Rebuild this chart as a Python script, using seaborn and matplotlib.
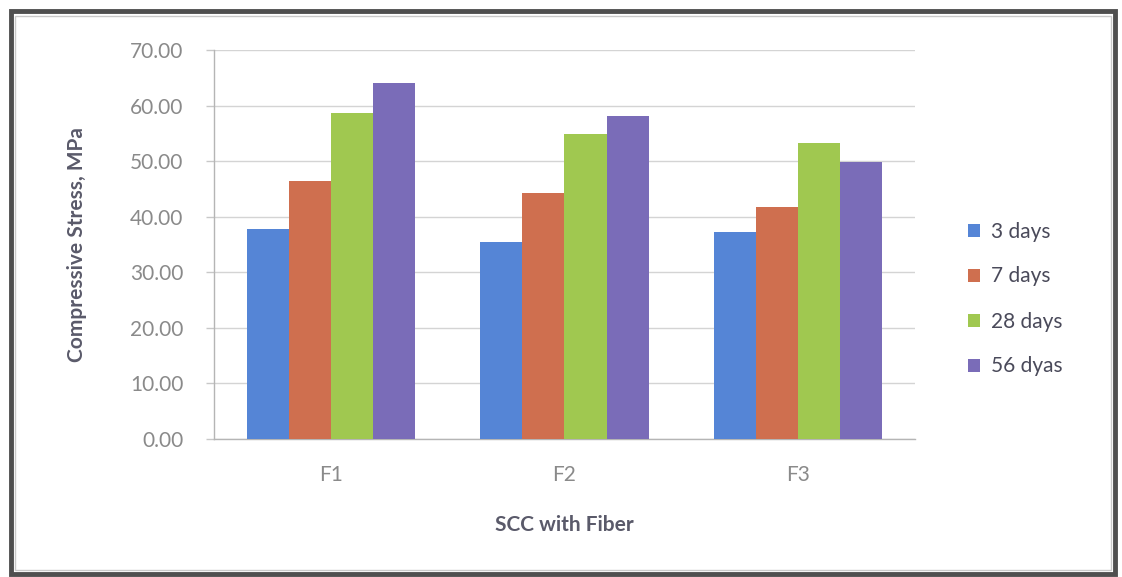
import matplotlib
matplotlib.use("Agg")
import matplotlib.pyplot as plt
from matplotlib.patches import Rectangle, Patch
import seaborn as sns
import pandas as pd

# Compressive stress (MPa) of SCC mixes with fiber at different curing ages
mixes = ["F1", "F2", "F3"]
ages = ["3 days", "7 days", "28 days", "56 dyas"]
stress_3d = [37.7, 35.5, 37.3]
stress_7d = [46.5, 44.3, 41.8]
stress_28d = [58.6, 54.8, 53.2]
stress_56d = [64.0, 58.2, 49.8]
y_ticks = [0, 10, 20, 30, 40, 50, 60, 70]

colors = ["#5585D6", "#CF6F4F", "#A0C850", "#7A6CB8"]

rows = []
for age, vals in zip(ages, [stress_3d, stress_7d, stress_28d, stress_56d]):
    for mix, v in zip(mixes, vals):
        rows.append({"mix": mix, "age": age, "stress": v})
df = pd.DataFrame(rows)

sns.set_theme(style="white")
plt.rcParams["font.family"] = ["Lato", "DejaVu Sans"]

fig = plt.figure(figsize=(11.22, 5.77), dpi=100)
ax = fig.add_axes([214 / 1122, 1 - 439 / 577, (915 - 214) / 1122, (439 - 50) / 577])

sns.barplot(data=df, x="mix", y="stress", hue="age", order=mixes, hue_order=ages,
            palette=colors, width=0.72, gap=0, saturation=1, ax=ax,
            edgecolor="none", linewidth=0, legend=False, zorder=3)

ax.set_ylim(0, 70)
ax.set_xlim(-0.5, 2.5)
ax.set_yticks(y_ticks)
ax.set_yticklabels([f"{t:.2f}" for t in y_ticks])
ax.yaxis.grid(True, color="#D4D4D4", linewidth=1.0, zorder=0)
ax.set_axisbelow(True)

for side in ["top", "right"]:
    ax.spines[side].set_visible(False)
ax.spines["left"].set_color("#B5B5B5")
ax.spines["bottom"].set_color("#B5B5B5")
ax.spines["left"].set_linewidth(1.0)
ax.spines["bottom"].set_linewidth(1.0)

ax.tick_params(axis="y", which="major", length=6, width=1, color="#C8C8C8",
               pad=16, labelsize=15, labelcolor="#8A8A8A", left=True)
ax.tick_params(axis="x", which="major", length=0, pad=19,
               labelsize=15, labelcolor="#8A8A8A")

ax.set_ylabel("Compressive Stress, MPa", fontsize=15, fontweight="bold",
              color="#5A5A6A", labelpad=31)
ax.set_xlabel("SCC with Fiber", fontsize=15, fontweight="bold",
              color="#5A5A6A", labelpad=21)

handles = [Patch(facecolor=c, edgecolor="none", label=a) for c, a in zip(colors, ages)]
fig.legend(handles=handles, loc="center left", bbox_to_anchor=(949 / 1122, 1 - 299 / 577),
           frameon=False, fontsize=15, labelcolor="#4A4A5A",
           handlelength=0.6, handleheight=0.6, handletextpad=0.5, labelspacing=1.2)

# Outer chart frame
fig.patches.append(Rectangle((11 / 1122, 1 - 574 / 577), (1115 - 11) / 1122, (574 - 11) / 577,
                             transform=fig.transFigure, fill=False,
                             edgecolor="#4F4F4F", linewidth=3.5))
fig.patches.append(Rectangle((15 / 1122, 1 - 570 / 577), (1111 - 15) / 1122, (570 - 16) / 577,
                             transform=fig.transFigure, fill=False,
                             edgecolor="#C9C9C9", linewidth=1.0))

fig.savefig("out.png", dpi=100, facecolor="white")
